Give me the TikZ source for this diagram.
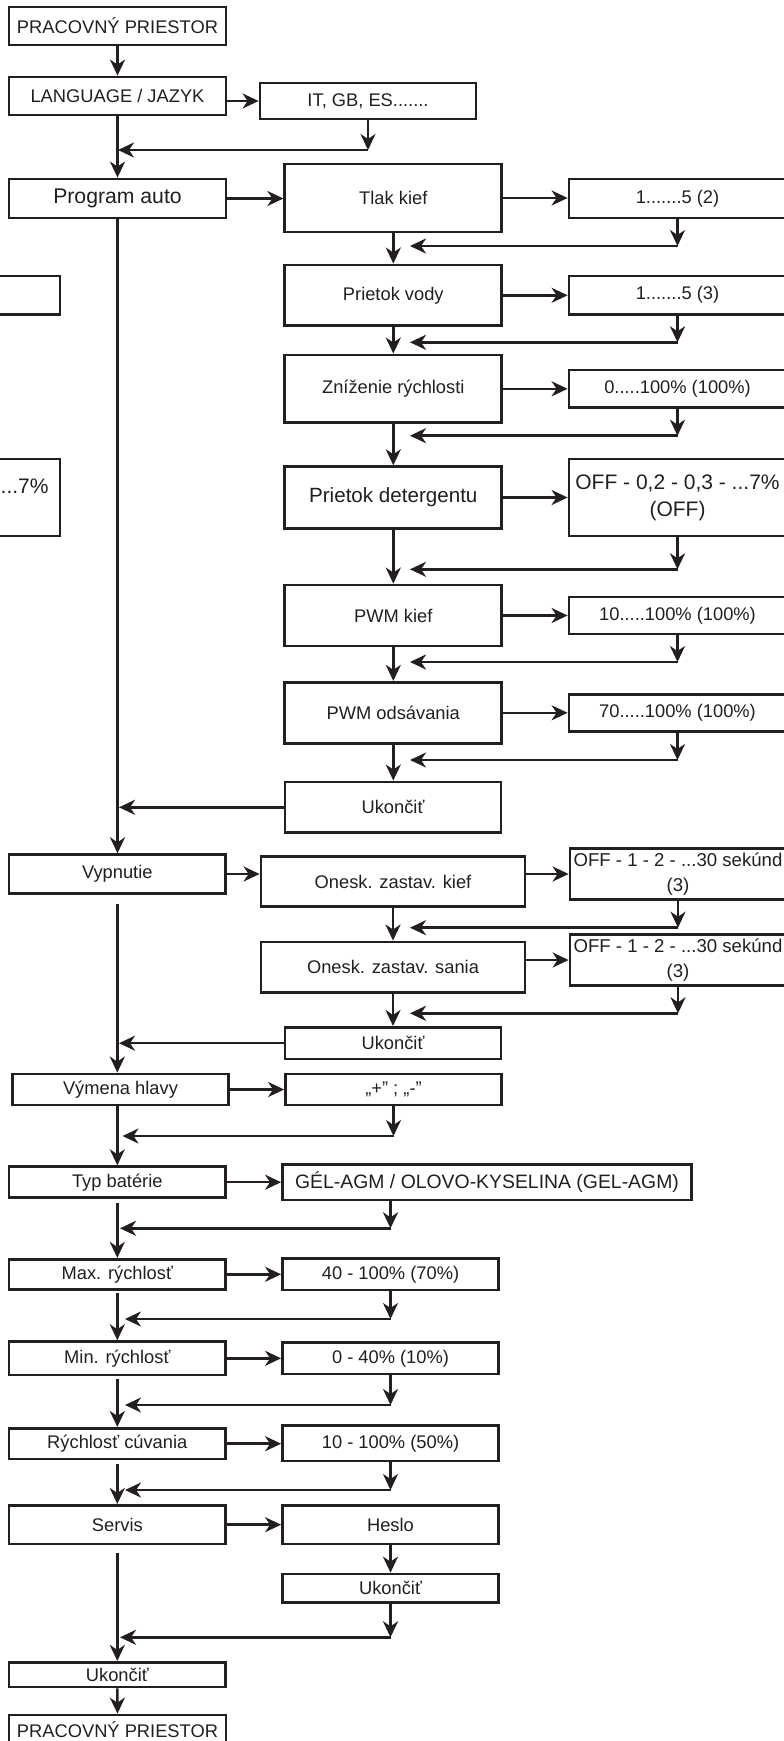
\documentclass[tikz,border=0pt]{standalone}
\usepackage{fontspec}
\setmainfont{Liberation Sans}
\usetikzlibrary{arrows.meta,calc}
\definecolor{ink}{RGB}{35,31,32}
\newcommand\fsn{\fontsize{18.3}{22}\selectfont}
\newcommand\fsbig{\fontsize{21.2}{26}\selectfont}
\newcommand\fsdet{\fontsize{20.6}{25}\selectfont}
\newcommand\fsoff{\fontsize{21}{27}\selectfont}
\newcommand\fssec{\fontsize{18.6}{25}\selectfont}
\newcommand\fsgel{\fontsize{19.4}{23}\selectfont}
\tikzset{
  box/.style={draw=ink, line width=2.8pt, inner sep=0pt, align=center, text=ink, font=\fsn},
  ln/.style={draw=ink, line width=2.5pt},
  arr/.style={ln, -{Stealth[length=16pt,width=15pt,inset=5pt]}},
}
\begin{document}
\begin{tikzpicture}[x=1pt,y=-1pt]
\useasboundingbox (0,0) rectangle (784,1741);
\fill[white] (0,0) rectangle (784,1741);
\clip (0,0) rectangle (784,1741);

% left column
\node[box, minimum width=217pt, minimum height=38pt] (P1) at (117.5,26) {PRACOVNÝ PRIESTOR};
\node[box, minimum width=217pt, minimum height=38pt] (LANG) at (117.5,96) {LANGUAGE / JAZYK};
\node[box, minimum width=217pt, minimum height=39pt, font=\fsbig] (PA) at (117.5,198.5) {Program auto};
\node[box, minimum width=216.5pt, minimum height=38.6pt] (VYP) at (117.3,874) {Vypnutie};
\node[box, minimum width=216pt, minimum height=31pt] (VYM) at (120.5,1089.5) {Výmena hlavy};
\node[box, minimum width=216.5pt, minimum height=31pt] (TYP) at (117.3,1182.2) {Typ batérie};
\node[box, minimum width=216.5pt, minimum height=30pt] (MAX) at (117.3,1274.3) {Max. rýchlosť};
\node[box, minimum width=216.5pt, minimum height=33.3pt] (MIN) at (117.3,1358.3) {Min. rýchlosť};
\node[box, minimum width=216.5pt, minimum height=30.7pt] (RYC) at (117.3,1443.7) {Rýchlosť cúvania};
\node[box, minimum width=216.5pt, minimum height=38.7pt] (SER) at (117.3,1524.7) {Servis};
\node[box, minimum width=216.5pt, minimum height=24.7pt] (UK4) at (117.3,1674.7) {Ukončiť};
\node[box, minimum width=217pt, minimum height=30pt] (P2) at (117.5,1730) {PRACOVNÝ PRIESTOR};

% middle column
\node[box, minimum width=216pt, minimum height=36pt] (IT) at (368,101) {IT, GB, ES.......};
\node[box, minimum width=217pt, minimum height=68pt] (TLAK) at (393.3,198) {Tlak kief};
\node[box, minimum width=217pt, minimum height=60.7pt] (PV) at (393.3,295.3) {Prietok vody};
\node[box, minimum width=217pt, minimum height=67.7pt] (ZN) at (393.3,388.8) {Zníženie rýchlosti};
\node[box, minimum width=217pt, minimum height=61.6pt, font=\fsdet] (PD) at (393.3,497.5) {Prietok detergentu};
\node[box, minimum width=217pt, minimum height=61pt] (PWK) at (393.3,615.5) {PWM kief};
\node[box, minimum width=217pt, minimum height=61pt] (PWO) at (393.3,712.8) {PWM odsávania};
\node[box, minimum width=216pt, minimum height=50.7pt] (UK1) at (393,807.3) {Ukončiť};
\node[box, minimum width=264pt, minimum height=50pt] (OKK) at (393,881.7) {Onesk. zastav. kief};
\node[box, minimum width=264pt, minimum height=50.7pt] (OKS) at (393,967.3) {Onesk. zastav. sania};
\node[box, minimum width=216pt, minimum height=31.7pt] (UK2) at (393,1043.2) {Ukončiť};
\node[box, minimum width=216pt, minimum height=31pt] (PLUS) at (393.5,1089.5) {„+” ; „-”};
\node[box, minimum width=409pt, minimum height=35.7pt, font=\fsgel] (GEL) at (487,1182.2) {GÉL-AGM / OLOVO-KYSELINA (GEL-AGM)};
\node[box, minimum width=216pt, minimum height=31.3pt] (V40) at (390.5,1274.3) {40 - 100\% (70\%)};
\node[box, minimum width=216pt, minimum height=31.3pt] (V0) at (390.5,1358.3) {0 - 40\% (10\%)};
\node[box, minimum width=216pt, minimum height=35.3pt] (V10) at (390.5,1443.3) {10 - 100\% (50\%)};
\node[box, minimum width=216pt, minimum height=38.7pt] (HES) at (390.5,1524.7) {Heslo};
\node[box, minimum width=216pt, minimum height=28.3pt] (UK3) at (390.5,1588.2) {Ukončiť};

% right column (cut by the page edge)
\node[box, minimum width=217pt, minimum height=39pt] (V1) at (677.5,198.5) {1.......5 (2)};
\node[box, minimum width=217pt, minimum height=38.3pt] (V2) at (677.5,295.2) {1.......5 (3)};
\node[box, minimum width=217pt, minimum height=37.7pt] (V3) at (677.5,388.8) {0.....100\% (100\%)};
\node[box, minimum width=217pt, minimum height=77pt, font=\fsoff] (V4) at (677.5,497.5) {OFF - 0,2 - 0,3 - ...7\%\\(OFF)};
\node[box, minimum width=217pt, minimum height=37pt] (V5) at (677.5,615.5) {10.....100\% (100\%)};
\node[box, minimum width=217pt, minimum height=37.5pt] (V6) at (677.5,713) {70.....100\% (100\%)};
\node[box, minimum width=216pt, minimum height=51pt, font=\fssec] (V7) at (678,874) {OFF - 1 - 2 - ...30 sekúnd\\(3)};
\node[box, minimum width=216pt, minimum height=51pt, font=\fssec] (V8) at (678,960) {OFF - 1 - 2 - ...30 sekúnd\\(3)};

% fragments at the left page edge
\node[box, minimum width=220pt, minimum height=38.3pt] (F1) at (-50,295.2) {};
\node[box, minimum width=220pt, minimum height=77pt] (F2) at (-50,497.5) {};
\node[anchor=west, inner sep=0pt, text=ink, font=\fsoff] (F2t) at (0.5,486) {...7\%};

% return junctions
\coordinate (r0) at (118,150);
\coordinate (r1) at (410,246);
\coordinate (r2) at (410,342.3);
\coordinate (r3) at (410,435.7);
\coordinate (r4) at (410,569.3);
\coordinate (r5) at (410,662);
\coordinate (r6) at (410,760);
\coordinate (r7) at (410,927.7);
\coordinate (r8) at (410,1013.3);
\coordinate (r9) at (122.5,1136);
\coordinate (r10) at (120,1228.3);
\coordinate (r11) at (125,1319);
\coordinate (r12) at (125,1405);
\coordinate (r13) at (125,1490);
\coordinate (r14) at (120,1637.3);

% top part
\draw[arr] (P1.south) -- (LANG.north);
\draw[arr] (LANG.east |- IT.west) -- (IT.west);
\draw[arr] (IT.south) -- (IT.south |- r0);
\draw[arr] (IT.south |- r0) -- (r0);
\draw[arr] (LANG.south) -- (PA.north);
\draw[arr] (PA.east) -- (PA.east -| TLAK.west);

% program auto branch
\draw[arr] (TLAK.east) -- (TLAK.east -| V1.west);
\draw[arr] (V1.south) -- (V1.south |- r1);
\draw[arr] (V1.south |- r1) -- (r1);
\draw[arr] (TLAK.south) -- (PV.north);
\draw[arr] (PV.east) -- (PV.east -| V2.west);
\draw[arr] (V2.south) -- (V2.south |- r2);
\draw[arr] (V2.south |- r2) -- (r2);
\draw[arr] (PV.south) -- (ZN.north);
\draw[arr] (ZN.east) -- (ZN.east -| V3.west);
\draw[arr] (V3.south) -- (V3.south |- r3);
\draw[arr] (V3.south |- r3) -- (r3);
\draw[arr] (ZN.south) -- (PD.north);
\draw[arr] (PD.east) -- (PD.east -| V4.west);
\draw[arr] (V4.south) -- (V4.south |- r4);
\draw[arr] (V4.south |- r4) -- (r4);
\draw[arr] (PD.south) -- (PWK.north);
\draw[arr] (PWK.east) -- (PWK.east -| V5.west);
\draw[arr] (V5.south) -- (V5.south |- r5);
\draw[arr] (V5.south |- r5) -- (r5);
\draw[arr] (PWK.south) -- (PWO.north);
\draw[arr] (PWO.east) -- (PWO.east -| V6.west);
\draw[arr] (V6.south) -- (V6.south |- r6);
\draw[arr] (V6.south |- r6) -- (r6);
\draw[arr] (PWO.south) -- (PWO.south |- UK1.north);
\draw[arr, shorten >=1.5pt] (UK1.west) -- (UK1.west -| PA.south);
\draw[arr] (PA.south) -- (PA.south |- VYP.north);

% vypnutie branch
\draw[arr] (VYP.east) -- (VYP.east -| OKK.west);
\draw[arr] (OKK.east |- V7.west) -- (V7.west);
\draw[arr] (V7.south) -- (V7.south |- r7);
\draw[arr] (V7.south |- r7) -- (r7);
\draw[arr] (OKK.south) -- (OKS.north);
\draw[arr] (OKS.east |- V8.west) -- (V8.west);
\draw[arr] (V8.south) -- (V8.south |- r8);
\draw[arr] (V8.south |- r8) -- (r8);
\draw[arr] (OKS.south) -- (UK2.north);
\draw[arr, shorten >=1.5pt] (UK2.west) -- (UK2.west -| PA.south);
\draw[arr] ([yshift=-9pt]VYP.south) -- (VYP.south |- VYM.north);

% lower items
\draw[arr] (VYM.east) -- (PLUS.west);
\draw[arr] (PLUS.south) -- (PLUS.south |- r9);
\draw[arr] (PLUS.south |- r9) -- (r9);
\draw[arr] (TYP.north |- VYM.south) -- (TYP.north);

\draw[arr] (TYP.east) -- (TYP.east -| GEL.west);
\draw[arr] (GEL.south -| V40.north) -- (V40.north |- r10);
\draw[arr] (V40.north |- r10) -- (r10);
\draw[arr] ([yshift=-4pt]TYP.south) -- (MAX.north);

\draw[arr] (MAX.east) -- (MAX.east -| V40.west);
\draw[arr] (V40.south) -- (V40.south |- r11);
\draw[arr] (V40.south |- r11) -- (r11);
\draw[arr] ([yshift=-2pt]MAX.south) -- (MIN.north);

\draw[arr] (MIN.east) -- (MIN.east -| V0.west);
\draw[arr] (V0.south) -- (V0.south |- r12);
\draw[arr] (V0.south |- r12) -- (r12);
\draw[arr] ([yshift=-3pt]MIN.south) -- (RYC.north);

\draw[arr] (RYC.east) -- (RYC.east -| V10.west);
\draw[arr] (V10.south) -- (V10.south |- r13);
\draw[arr] (V10.south |- r13) -- (r13);
\draw[arr] ([yshift=-4pt]RYC.south) -- (SER.north);

\draw[arr] (SER.east) -- (SER.east -| HES.west);
\draw[arr] (HES.south) -- (UK3.north);
\draw[arr] (UK3.south) -- (UK3.south |- r14);
\draw[arr] (UK3.south |- r14) -- (r14);
\draw[arr] ([yshift=-8pt]SER.south) -- (UK4.north);
\draw[arr] (UK4.south) -- (P2.north);
\end{tikzpicture}
\end{document}
